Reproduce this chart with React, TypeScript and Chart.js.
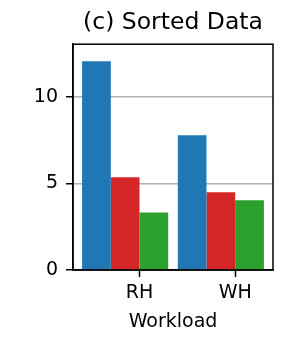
import React, { useEffect, useRef } from "react";
import { Chart, registerables } from "chart.js";

Chart.register(...registerables);

const title = "(c) Sorted Data";
const xTitle = "Workload";
const categories = ["RH", "WH"];
const groupPositions = [0, 1];
const tickPositions = [0.15, 1.15];
const seriesBlue = [12.08, 7.8];
const seriesRed = [5.36, 4.49];
const seriesGreen = [3.33, 4.03];
const yTicks = [0, 5, 10];
const colors = ["#1f77b4", "#d62728", "#2ca02c"];

const FONT = "'DejaVu Sans', sans-serif";

export default function App() {
  const ref = useRef<HTMLCanvasElement | null>(null);
  useEffect(() => {
    if (!ref.current) return;
    const mk = (vals: number[]) => vals.map((v, i) => ({ x: groupPositions[i], y: v }));
    const frame = {
      id: "frame",
      afterDraw(chart: any) {
        const { ctx, chartArea } = chart;
        ctx.save();
        ctx.strokeStyle = "#000";
        ctx.lineWidth = 1.5;
        ctx.strokeRect(chartArea.left, chartArea.top, chartArea.right - chartArea.left, chartArea.bottom - chartArea.top);
        ctx.restore();
      },
    };
    const chart = new Chart(ref.current, {
      type: "bar",
      data: {
        datasets: [
          { data: mk(seriesBlue), backgroundColor: colors[0] },
          { data: mk(seriesRed), backgroundColor: colors[1] },
          { data: mk(seriesGreen), backgroundColor: colors[2] },
        ],
      } as any,
      options: {
        animation: false,
        responsive: false,
        devicePixelRatio: 1,
        layout: { padding: { left: 0, right: 14, top: 0, bottom: 0 } },
        categoryPercentage: 0.9,
        barPercentage: 1,
        plugins: {
          legend: { display: false },
          tooltip: { enabled: false },
          title: {
            display: true,
            fullSize: false,
            text: title,
            color: "#000",
            font: { family: FONT, size: 23.5, weight: "normal" },
            padding: { top: 9, bottom: 7 },
          },
        },
        scales: {
          x: {
            type: "linear",
            min: -0.545,
            max: 1.545,
            offset: false,
            grid: { offset: false, drawOnChartArea: false, tickLength: 7, tickColor: "#000", tickWidth: 1.5 },
            border: { color: "#000", width: 1.5 },
            afterBuildTicks: (s: any) => {
              s.ticks = tickPositions.map((v) => ({ value: v }));
            },
            afterFit: (s: any) => {
              s.height = 75;
            },
            ticks: {
              autoSkip: false,
              maxRotation: 0,
              padding: 5,
              color: "#000",
              font: { family: FONT, size: 19 },
              callback: (_v: any, i: number) => categories[i],
            },
            title: {
              display: true,
              text: xTitle,
              color: "#000",
              font: { family: FONT, size: 19 },
              padding: { top: 0, bottom: 12 },
            },
          },
          y: {
            min: 0,
            max: 13.06,
            z: 1,
            grid: { color: "#b0b0b0", lineWidth: 1.5, tickLength: 7, tickColor: "#000", tickWidth: 1.5 },
            border: { color: "#000", width: 1.5 },
            afterBuildTicks: (s: any) => {
              s.ticks = yTicks.map((v) => ({ value: v }));
            },
            afterFit: (s: any) => {
              s.width = 73;
            },
            ticks: {
              padding: 8,
              color: "#000",
              font: { family: FONT, size: 19 },
            },
          },
        },
      } as any,
      plugins: [frame],
    });
    return () => chart.destroy();
  }, []);
  return (
    <div style={{ position: "fixed", top: 0, left: 0, width: 287, height: 345, background: "#fff" }}>
      <canvas ref={ref} width={287} height={345} />
    </div>
  );
}
